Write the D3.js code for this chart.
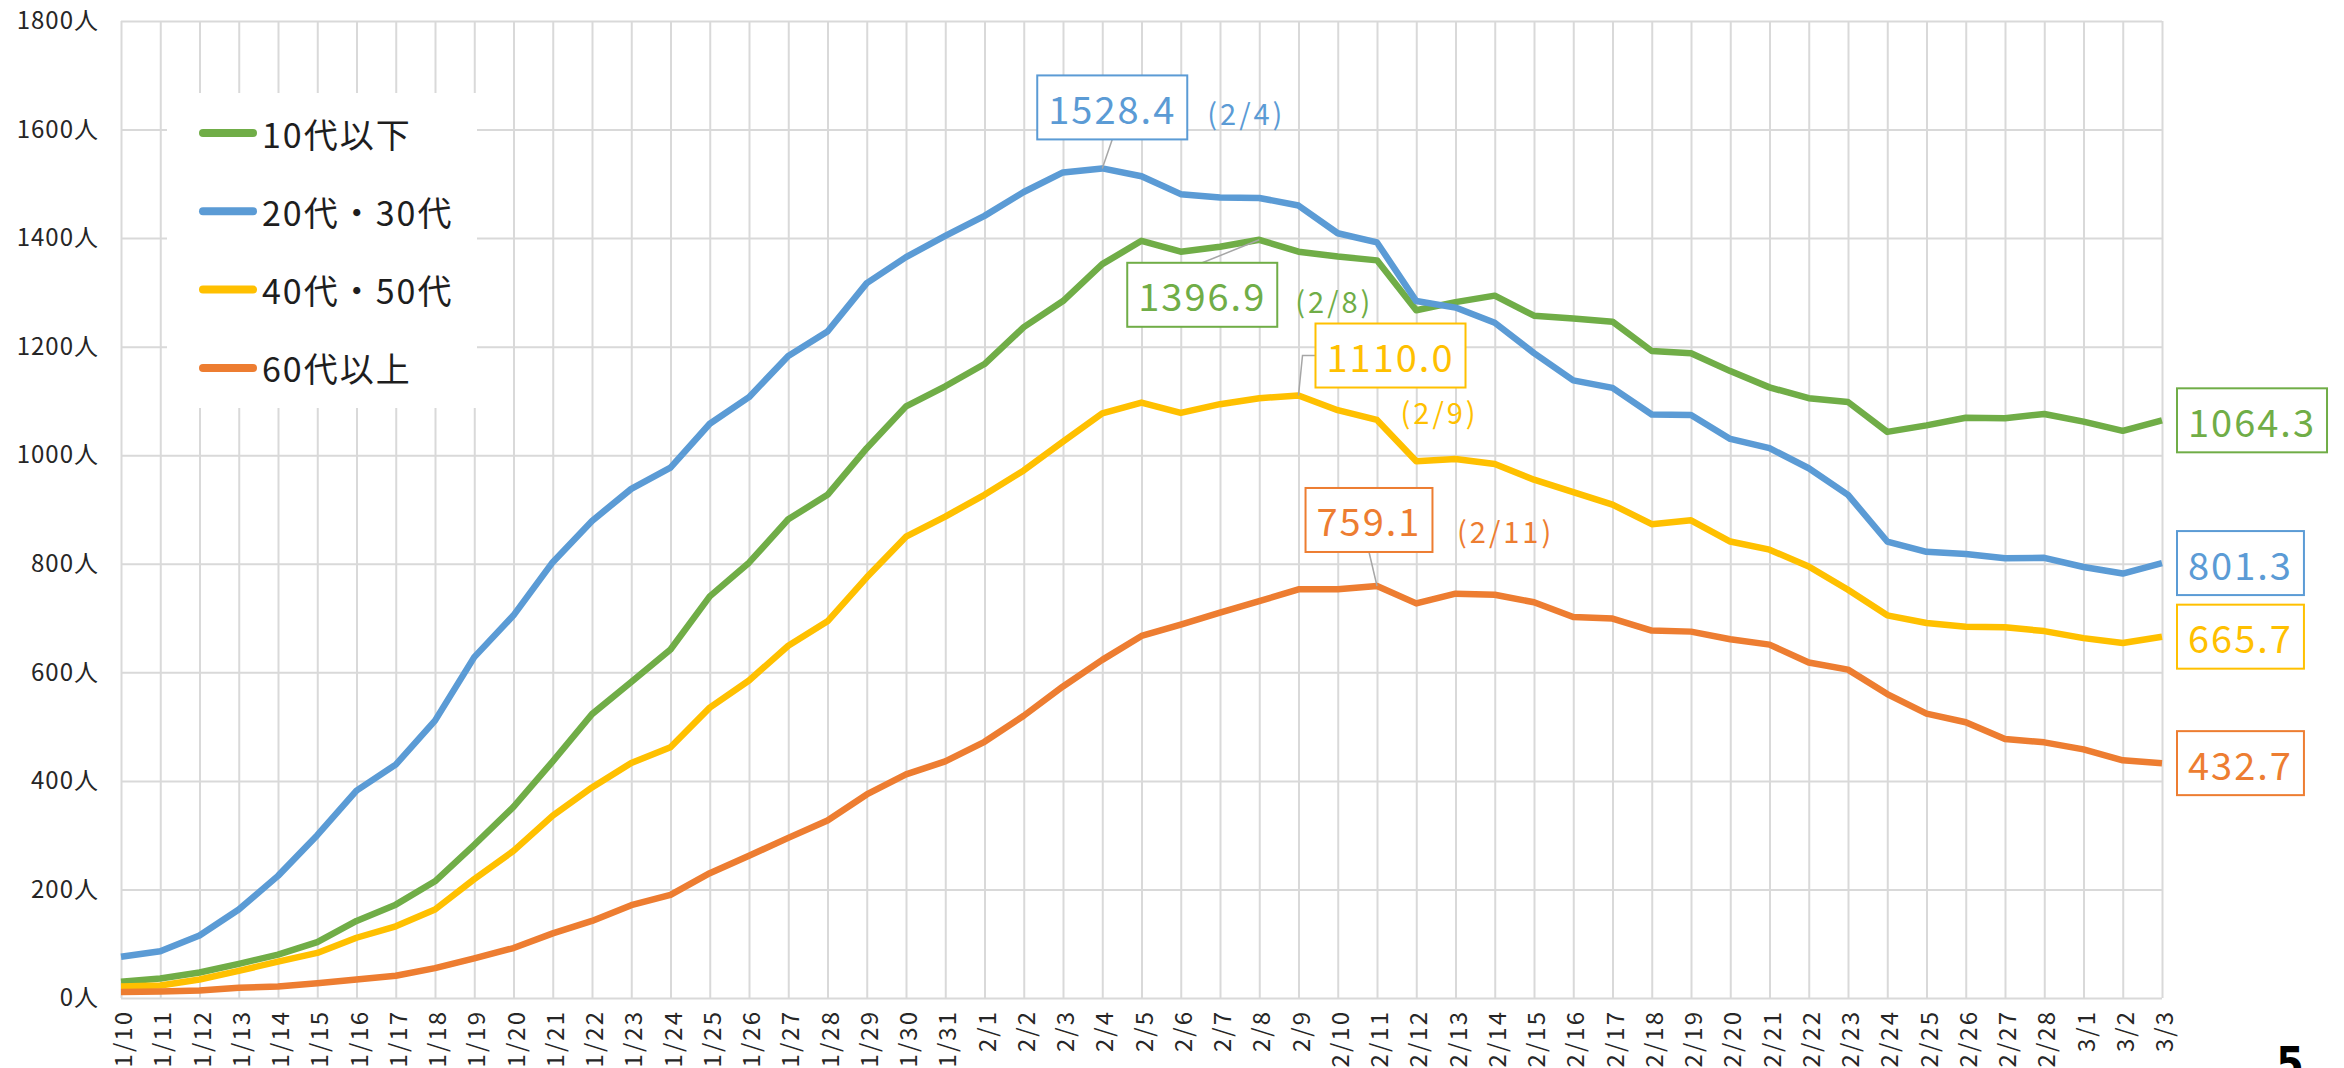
<!DOCTYPE html>
<html>
<head>
<meta charset="utf-8">
<script src="https://cdn.jsdelivr.net/npm/d3@7"></script>
<style>
  body { margin: 0; background: #fff; }
  svg { display: block; font-family: "Noto Sans CJK JP", "Noto Sans", sans-serif; }
  .grid line { stroke: #d9d9d9; stroke-width: 2; }
  .grid path { display: none; }
</style>
</head>
<body>
<svg id="chart" width="2344" height="1068"></svg>
<script>
/*
 Data - 7-day average of new cases by age group
*/
var dates = [
  "1/10","1/11","1/12","1/13","1/14","1/15","1/16","1/17","1/18","1/19","1/20",
  "1/21","1/22","1/23","1/24","1/25","1/26","1/27","1/28","1/29","1/30","1/31",
  "2/1","2/2","2/3","2/4","2/5","2/6","2/7","2/8","2/9","2/10","2/11","2/12","2/13","2/14",
  "2/15","2/16","2/17","2/18","2/19","2/20","2/21","2/22","2/23","2/24","2/25","2/26","2/27","2/28",
  "3/1","3/2","3/3"
];
var seriesNames = ["10代以下", "20代・30代", "40代・50代", "60代以上"];

var under10 = [30,36,47,63,80,103,142,172,215,282,352,436,523,582,642,740,802,882,927,1013,1090,1127,
  1168,1236,1284,1352,1395,1375,1384,1396.9,1375,1366,1359,1267,1282,1294,1257,1252,1246,1192,1188,1155,1125,1105,1098,1043,1055,1069,1068,1076,
  1062,1045,1064.3];
var age20s30s = [76,86,115,163,225,300,382,430,511,628,705,803,879,938,977,1058,1107,1183,1228,1317,1365,1404,
  1441,1485,1521,1528.4,1514,1481,1475,1474,1460,1409,1392,1284,1272,1244,1188,1138,1124,1075,1074,1030,1013,976,927,841,822,818,810,811,
  794,782,801.3];
var age40s50s = [21,23,34,50,67,83,111,132,163,219,271,336,388,433,462,535,585,649,694,775,850,887,
  927,972,1025,1077,1097,1078,1094,1105,1110.0,1083,1065,989,993,984,955,932,909,873,880,841,826,795,752,705,691,684,683,676,
  663,654,665.7];
var over60 = [11,12,14,19,21,27,34,41,55,73,92,119,142,171,190,230,262,295,327,375,412,436,
  472,520,574,623,667,688,710,731,753,753,759.1,727,745,743,729,702,699,677,675,661,651,618,605,560,524,508,477,471,
  458,438,432.7];

var yTicks = [0,200,400,600,800,1000,1200,1400,1600,1800];

// peak callouts: series index, date of peak
var peakSeries = [1, 0, 2, 3];
var peakDates = ["2/4", "2/8", "2/9", "2/11"];

/*
 Consts
*/
var colors = ["#70ad47", "#5b9bd5", "#ffc000", "#ed7d31"];
var allSeries = [under10, age20s30s, age40s50s, over60];

var svg = d3.select("#chart");
var plotLeft = 121, plotRight = 2162, plotTop = 21, plotBottom = 998;

var x = d3.scalePoint().domain(dates).range([plotLeft, plotRight]);
var y = d3.scaleLinear().domain([0, 1800]).range([plotBottom, plotTop]);

/* Gridlines + axes */
var gx = svg.append("g")
  .attr("class", "grid")
  .attr("transform", "translate(0," + plotBottom + ")")
  .call(d3.axisBottom(x).tickSize(-(plotBottom - plotTop)).tickSizeOuter(0));
gx.selectAll("text")
  .attr("transform", "rotate(-90)")
  .attr("x", -12)
  .attr("y", 0)
  .attr("dy", null)
  .attr("dominant-baseline", "central")
  .attr("text-anchor", "end")
  .style("font-size", "24px")
  .style("letter-spacing", "2px")
  .style("font-family", "'Noto Sans CJK JP', sans-serif")
  .attr("fill", "#262626");

var gy = svg.append("g")
  .attr("class", "grid")
  .attr("transform", "translate(" + plotLeft + ",0)")
  .call(d3.axisLeft(y).tickValues(yTicks).tickSize(-(plotRight - plotLeft)).tickPadding(22)
    .tickFormat(function (d) { return d + "人"; }));
gy.selectAll("text")
  .style("font-size", "24px")
  .style("letter-spacing", "1px")
  .style("font-family", "'Noto Sans CJK JP', sans-serif")
  .attr("fill", "#262626");

/* Legend (white box drawn over the grid) */
svg.append("rect")
  .attr("x", 167).attr("y", 93)
  .attr("width", 310).attr("height", 315)
  .attr("fill", "#fff");

var legend = svg.append("g");
seriesNames.forEach(function (name, i) {
  var ly = 133 + i * 78.3;
  legend.append("line")
    .attr("x1", 203).attr("x2", 253)
    .attr("y1", ly).attr("y2", ly)
    .attr("stroke", colors[i])
    .attr("stroke-width", 8)
    .attr("stroke-linecap", "round");
  legend.append("text")
    .attr("x", 262).attr("y", ly)
    .attr("dominant-baseline", "central")
    .style("font-size", "34px")
    .style("letter-spacing", "2px")
    .attr("fill", "#1e1e1e")
    .text(name);
});

/* Lines */
var line = d3.line()
  .x(function (d, i) { return x(dates[i]); })
  .y(function (d) { return y(d); });

allSeries.forEach(function (s, i) {
  svg.append("path")
    .datum(s)
    .attr("d", line)
    .attr("fill", "none")
    .attr("stroke", colors[i])
    .attr("stroke-width", 6.5)
    .attr("stroke-linejoin", "round");
});

/* Boxed value label helper */
function boxLabel(cx, cy, txt, color) {
  var g = svg.append("g");
  var rect = g.append("rect");
  var t = g.append("text")
    .attr("x", cx).attr("y", cy)
    .attr("text-anchor", "middle")
    .attr("dominant-baseline", "central")
    .style("font-size", "38px")
    .style("letter-spacing", "2px")
    .attr("fill", color)
    .text(txt);
  var w = t.node().getBBox().width + 22;
  rect.attr("x", cx - w / 2).attr("y", cy - 32)
    .attr("width", w).attr("height", 64)
    .attr("fill", "#fff")
    .attr("stroke", color)
    .attr("stroke-width", 2);
  return { x0: cx - w / 2, x1: cx + w / 2, y0: cy - 32, y1: cy + 32 };
}

function subLabel(x0, cy, txt, color) {
  svg.append("text")
    .attr("x", x0).attr("y", cy)
    .attr("dominant-baseline", "central")
    .style("font-size", "29px")
    .style("letter-spacing", "3px")
    .attr("fill", color)
    .text(txt);
}

/* Peak callouts */
// offsets of each box / date text from its point, hand tuned
var boxOffsets = [[10, -61], [-57, 55], [92, -40], [-8, -66]];
var subOffsets = [[105, -56], [36, 60], [102, 15], [80, -56]];

peakSeries.forEach(function (si, k) {
  var idx = dates.indexOf(peakDates[k]);
  var v = allSeries[si][idx];
  var px = x(peakDates[k]), py = y(v);
  var cx = px + boxOffsets[k][0], cy = py + boxOffsets[k][1];
  var leader = svg.append("path");
  var b = boxLabel(cx, cy, v.toFixed(1), colors[si]);
  var d;
  if (k === 1) d = "M" + cx + "," + b.y0 + "L" + px + "," + py;
  else if (k === 2) d = "M" + b.x0 + "," + cy + "L" + (px + 4) + "," + cy + "L" + px + "," + py;
  else d = "M" + cx + "," + b.y1 + "L" + px + "," + py;
  leader.attr("d", d).attr("fill", "none").attr("stroke", "#a6a6a6").attr("stroke-width", 1.5);
  subLabel(px + subOffsets[k][0], py + subOffsets[k][1], "(" + peakDates[k] + ")", colors[si]);
});

/* End-of-series labels */
var last = dates.length - 1;
allSeries.forEach(function (s, i) {
  var v = s[last];
  var g = svg.append("g");
  var rect = g.append("rect");
  var t = g.append("text")
    .attr("y", y(v))
    .attr("dominant-baseline", "central")
    .style("font-size", "38px")
    .style("letter-spacing", "2px")
    .attr("fill", colors[i])
    .text(v.toFixed(1));
  var w = t.node().getBBox().width + 22;
  var x0 = x(dates[last]) + 15;
  t.attr("x", x0 + 11);
  rect.attr("x", x0).attr("y", y(v) - 32)
    .attr("width", w).attr("height", 64)
    .attr("fill", "#fff")
    .attr("stroke", colors[i])
    .attr("stroke-width", 2);
});

/* page number */
svg.append("text")
  .attr("x", 2290).attr("y", 1079)
  .attr("text-anchor", "middle")
  .style("font-size", "44px")
  .style("font-weight", "bold")
  .style("font-family", "'Liberation Sans Narrow', 'DejaVu Sans Condensed', sans-serif")
  .attr("fill", "#000")
  .text("5");
</script>
</body>
</html>
